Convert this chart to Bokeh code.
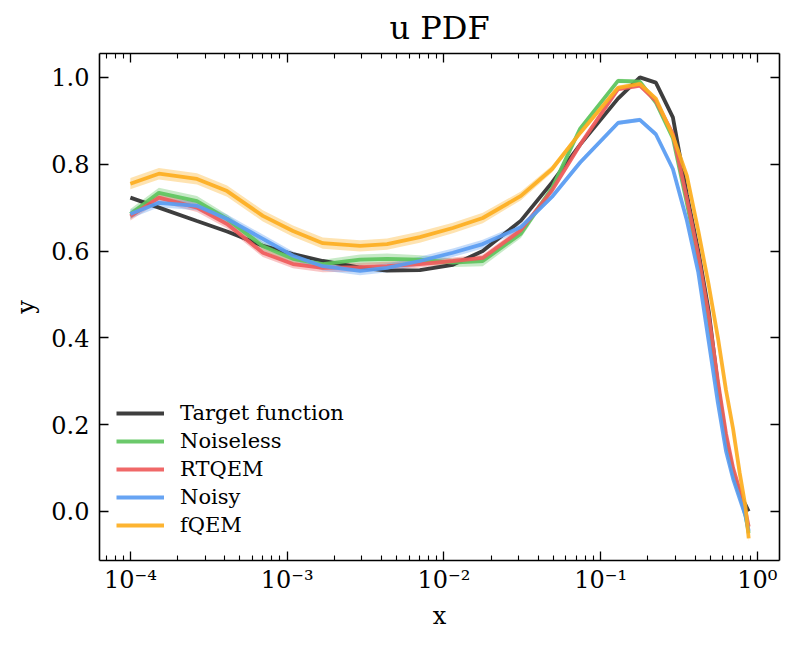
from bokeh.plotting import figure
from bokeh.models import (Range1d, FixedTicker, LogAxis, LinearAxis,
                          PrintfTickFormatter, CustomJSTickFormatter)
from bokeh.embed import file_html
from bokeh.resources import INLINE

FONT = "DejaVu Serif"

x_vals = [1.0e-4, 1.52e-4, 2.66e-4, 4.14e-4, 7.0e-4, 1.09e-3, 1.69e-3, 2.92e-3,
          4.34e-3, 7.03e-3, 1.14e-2, 1.77e-2, 3.10e-2, 4.9e-2, 7.4e-2, 0.129,
          0.178, 0.225, 0.289, 0.355, 0.42, 0.49, 0.56, 0.63, 0.70, 0.77, 0.84, 0.88]

target = [0.723, 0.700, 0.669, 0.645, 0.612, 0.593, 0.577, 0.562, 0.555, 0.556,
          0.568, 0.600, 0.670, 0.758, 0.845, 0.951, 1.000, 0.988, 0.908, 0.730,
          0.600, 0.460, 0.290, 0.160, 0.085, 0.040, 0.015, 0.000]

noiseless = [0.685, 0.734, 0.715, 0.674, 0.611, 0.582, 0.570, 0.580, 0.582, 0.580,
             0.573, 0.577, 0.640, 0.745, 0.882, 0.992, 0.990, 0.942, 0.860, 0.710,
             0.580, 0.440, 0.290, 0.170, 0.090, 0.040, -0.010, -0.050]
noiseless_err = [0.012, 0.012, 0.012, 0.010, 0.010, 0.010, 0.010, 0.012, 0.012, 0.010,
                 0.010, 0.012, 0.010, 0.008, 0.006, 0.005, 0.005, 0.005, 0.005, 0.005,
                 0.005, 0.005, 0.005, 0.005, 0.005, 0.005, 0.005, 0.006]

rtqem = [0.680, 0.723, 0.700, 0.662, 0.596, 0.570, 0.561, 0.563, 0.565, 0.570,
         0.577, 0.584, 0.648, 0.740, 0.845, 0.973, 0.981, 0.946, 0.870, 0.720,
         0.590, 0.450, 0.300, 0.180, 0.100, 0.050, 0.000, -0.035]
rtqem_err = [0.010, 0.010, 0.010, 0.010, 0.010, 0.010, 0.010, 0.010, 0.010, 0.008,
             0.008, 0.008, 0.008, 0.006, 0.006, 0.005, 0.005, 0.005, 0.005, 0.005,
             0.005, 0.005, 0.005, 0.005, 0.005, 0.006, 0.008, 0.010]

noisy = [0.685, 0.711, 0.704, 0.674, 0.628, 0.589, 0.565, 0.554, 0.561, 0.577,
         0.596, 0.616, 0.655, 0.725, 0.804, 0.895, 0.902, 0.869, 0.789, 0.670,
         0.550, 0.390, 0.250, 0.140, 0.075, 0.030, -0.010, -0.045]
noisy_err = [0.010, 0.010, 0.010, 0.010, 0.010, 0.010, 0.010, 0.010, 0.010, 0.010,
             0.010, 0.010, 0.008, 0.006, 0.006, 0.005, 0.005, 0.005, 0.005, 0.005,
             0.005, 0.005, 0.005, 0.005, 0.005, 0.005, 0.005, 0.006]

fqem = [0.755, 0.778, 0.766, 0.738, 0.681, 0.646, 0.618, 0.612, 0.616, 0.632,
        0.653, 0.676, 0.727, 0.789, 0.872, 0.976, 0.985, 0.951, 0.865, 0.773,
        0.646, 0.520, 0.400, 0.280, 0.190, 0.090, 0.010, -0.062]
fqem_err = [0.013, 0.013, 0.013, 0.013, 0.013, 0.013, 0.013, 0.013, 0.013, 0.013,
            0.012, 0.012, 0.010, 0.008, 0.006, 0.005, 0.005, 0.005, 0.005, 0.005,
            0.005, 0.005, 0.005, 0.005, 0.005, 0.005, 0.006, 0.008]

x_major = [1e-4, 1e-3, 1e-2, 1e-1, 1.0]
x_minor = [k * 10.0 ** e for e in range(-5, 1) for k in range(2, 10)]
y_major = [0.0, 0.2, 0.4, 0.6, 0.8, 1.0]

series = [
    ("Target function", target, None, "#2e2e2e"),
    ("Noiseless", noiseless, noiseless_err, "#5ec45e"),
    ("RTQEM", rtqem, rtqem_err, "#ef5b5b"),
    ("Noisy", noisy, noisy_err, "#5a9cf2"),
    ("fQEM", fqem, fqem_err, "#fdae1f"),
]

p = figure(width=786, height=649, x_axis_type="log",
           x_range=Range1d(10 ** -4.197, 10 ** 0.141),
           y_range=Range1d(-0.113, 1.055),
           title="u PDF", x_axis_label="x", y_axis_label="y",
           output_backend="svg", toolbar_location=None,
           min_border_left=99, min_border_right=7,
           min_border_top=53, min_border_bottom=89)
p.grid.visible = False
p.outline_line_color = None

p.title.align = "center"
p.title.text_font = FONT
p.title.text_font_size = "32px"
p.title.text_font_style = "normal"
p.title.text_color = "black"
p.title.standoff = 13

sup_code = """
const sup = {"-": "\u207b", "0": "\u2070", "1": "\u00b9", "2": "\u00b2", "3": "\u00b3", "4": "\u2074"};
const e = Math.round(Math.log10(tick));
return "10" + String(e).split("").map(c => sup[c]).join("");
"""

top = LogAxis()
right = LinearAxis()
p.add_layout(top, "above")
p.add_layout(right, "right")

for ax in p.xaxis:
    ax.ticker = FixedTicker(ticks=x_major, minor_ticks=x_minor)
    ax.formatter = CustomJSTickFormatter(code=sup_code)
for ax in p.yaxis:
    ax.ticker = FixedTicker(ticks=y_major, minor_ticks=[])
    ax.formatter = PrintfTickFormatter(format="%.1f")

for ax in p.axis:
    ax.axis_line_width = 1.6
    ax.major_tick_in = 9
    ax.major_tick_out = 0
    ax.minor_tick_in = 5
    ax.minor_tick_out = 0
    ax.major_tick_line_width = 1.3
    ax.minor_tick_line_width = 1.1
    ax.major_label_text_font = FONT
    ax.major_label_text_font_size = "24px"
    ax.major_label_text_color = "black"
    ax.axis_label_text_font = FONT
    ax.axis_label_text_font_size = "24px"
    ax.axis_label_text_font_style = "normal"
    ax.axis_label_text_color = "black"

# top and right axes only carry the inward ticks
for ax in (top, right):
    ax.major_label_text_font_size = "1px"
    ax.major_label_text_color = None
    ax.major_label_standoff = 0

p.xaxis[0].major_label_standoff = 12
p.xaxis[0].axis_label_standoff = 20
p.yaxis[0].major_label_standoff = 10
p.yaxis[0].axis_label_standoff = 8

for name, vals, err, color in series:
    if err is not None:
        lo = [v - e for v, e in zip(vals, err)]
        hi = [v + e for v, e in zip(vals, err)]
        p.varea(x=x_vals, y1=lo, y2=hi, fill_color=color, fill_alpha=0.35)

for name, vals, err, color in series:
    p.line(x_vals, vals, line_color=color, line_width=3.8, line_alpha=0.92,
           legend_label=name)

leg = p.legend[0]
leg.location = (17, 23)
leg.border_line_color = None
leg.background_fill_alpha = 0
leg.padding = 0
leg.margin = 0
leg.spacing = 4
leg.glyph_width = 48
leg.glyph_height = 20
leg.label_height = 20
leg.label_standoff = 16
leg.label_text_font = FONT
leg.label_text_font_size = "21px"
leg.label_text_color = "black"

open("out.html", "w").write(file_html(p, INLINE))
